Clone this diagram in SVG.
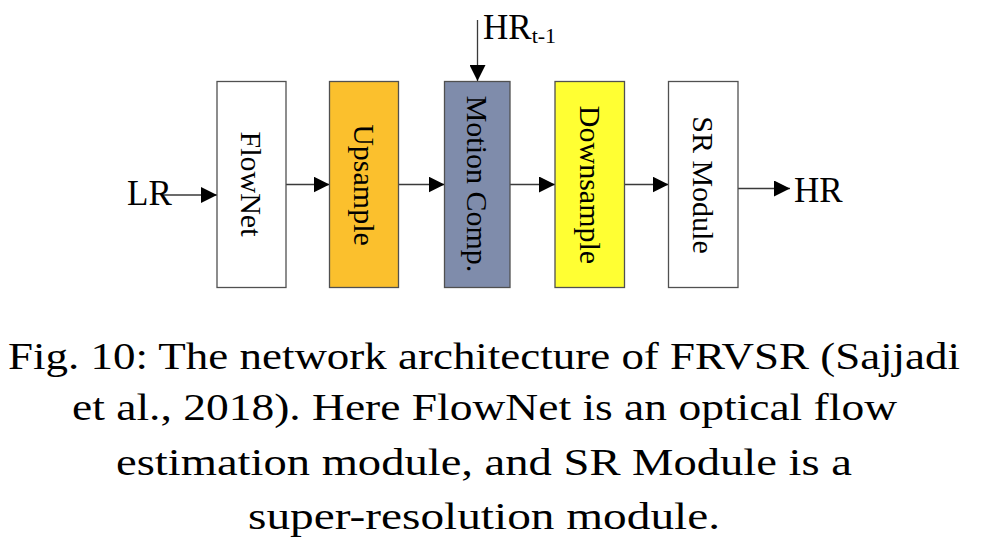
<svg xmlns="http://www.w3.org/2000/svg" width="983" height="547" viewBox="0 0 983 547">
<defs>
<style>
.box{stroke:#505050;stroke-width:1.3}
.lbl{font-family:"Liberation Serif","Times New Roman",serif;font-size:30px;fill:#000;text-anchor:middle}
.io{font-family:"Liberation Serif","Times New Roman",serif;font-size:35px;fill:#000}
.cap{font-family:"Liberation Serif","Times New Roman",serif;font-size:37px;fill:#000;text-anchor:middle}
.edge{stroke:#3a3a3a;stroke-width:1.3;fill:none;marker-end:url(#ah)}
</style>
<marker id="ah" viewBox="0 0 16 16" refX="16" refY="8" markerWidth="16" markerHeight="16" markerUnits="userSpaceOnUse" orient="auto">
<path d="M0,0 L16,8 L0,16 Z" fill="#000"/>
</marker>
</defs>
<rect width="983" height="547" fill="#fff"/>
<g id="connectors">
<line class="edge" x1="163" y1="195" x2="217" y2="195"/>
<line class="edge" x1="286" y1="184.5" x2="329.5" y2="184.5"/>
<line class="edge" x1="398.5" y1="184.5" x2="444.5" y2="184.5"/>
<line class="edge" x1="510" y1="184.5" x2="555" y2="184.5"/>
<line class="edge" x1="624.5" y1="184.5" x2="668.5" y2="184.5"/>
<line class="edge" x1="738" y1="188.5" x2="790" y2="188.5"/>
<line class="edge" x1="477.5" y1="20" x2="477.5" y2="81"/>
</g>
<g id="LR"><text class="io" x="127" y="205">LR</text></g>
<g id="HRt1"><text class="io" x="483" y="39">HR<tspan font-size="22" dy="4">t-1</tspan></text></g>
<g id="HR"><text class="io" x="794" y="202">HR</text></g>
<g id="FlowNet">
<rect class="box" x="217" y="81.5" width="69" height="206" fill="#fff"/>
<text class="lbl" x="251.5" y="184" dy="0.34em" transform="rotate(90 251.5 184)">FlowNet</text>
</g>
<g id="Upsample">
<rect class="box" x="329.5" y="81.5" width="69" height="206" fill="#FBC02D"/>
<text class="lbl" x="364" y="185" dy="0.34em" transform="rotate(90 364 185)">Upsample</text>
</g>
<g id="MotionComp">
<rect class="box" x="444.5" y="81.5" width="65.5" height="206" fill="#7F8CAB"/>
<text class="lbl" x="477.5" y="184" dy="0.34em" transform="rotate(90 477.5 184)">Motion Comp.</text>
</g>
<g id="Downsample">
<rect class="box" x="555" y="81.5" width="69.5" height="206" fill="#FFFF33"/>
<text class="lbl" x="590" y="185" dy="0.34em" transform="rotate(90 590 185)">Downsample</text>
</g>
<g id="SRModule">
<rect class="box" x="668.5" y="81.5" width="69.5" height="206" fill="#fff"/>
<text class="lbl" x="703" y="185" dy="0.34em" transform="rotate(90 703 185)">SR Module</text>
</g>
<g id="caption">
<text class="cap" x="484" y="369" textLength="952" lengthAdjust="spacingAndGlyphs">Fig. 10: The network architecture of FRVSR (Sajjadi</text>
<text class="cap" x="484.5" y="420" textLength="825" lengthAdjust="spacingAndGlyphs">et al., 2018). Here FlowNet is an optical flow</text>
<text class="cap" x="484" y="475" textLength="736" lengthAdjust="spacingAndGlyphs">estimation module, and SR Module is a</text>
<text class="cap" x="484" y="529" textLength="472" lengthAdjust="spacingAndGlyphs">super-resolution module.</text>
</g>
</svg>
